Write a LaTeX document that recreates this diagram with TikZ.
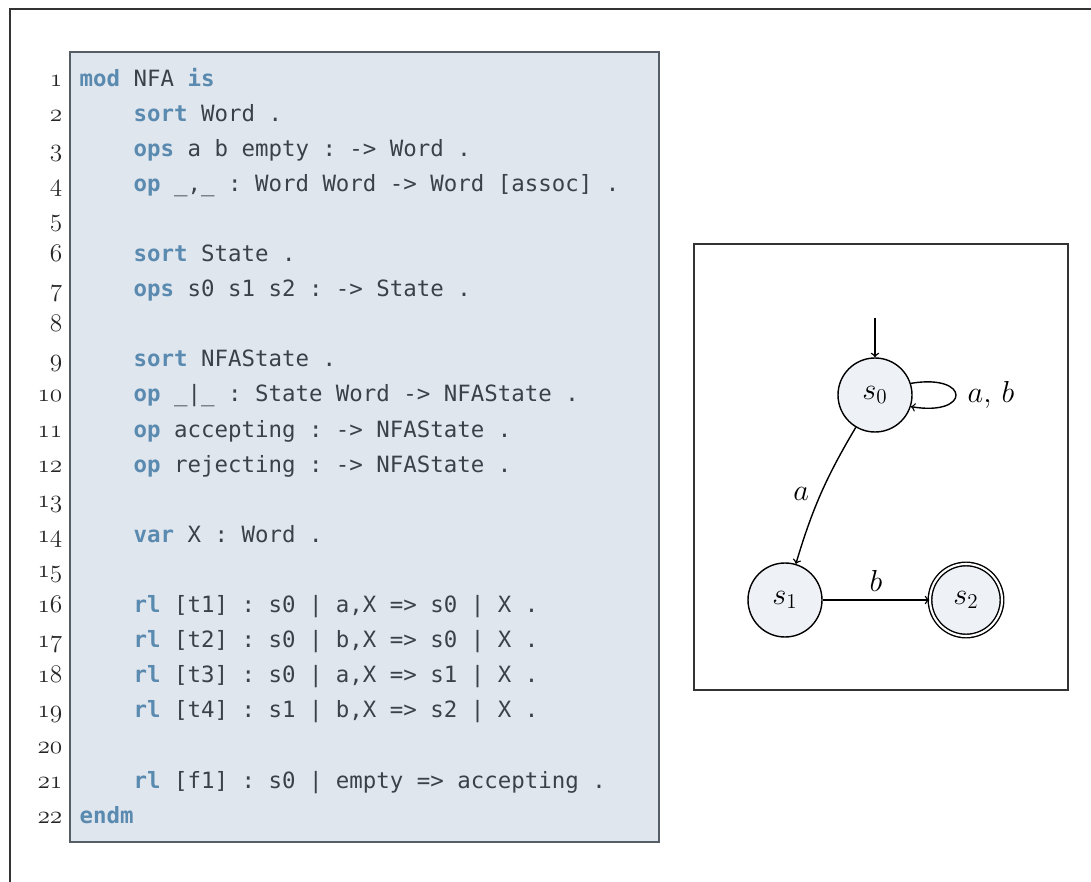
\documentclass[tikz,border=0pt]{standalone}
\usepackage{fontspec}
\setmonofont{DejaVu Sans Mono}
\usetikzlibrary{positioning}

\definecolor{codebg}{HTML}{DFE6EE}
\definecolor{codeframe}{HTML}{555E66}
\definecolor{kwblue}{HTML}{5A8AAF}
\definecolor{codetext}{HTML}{3A4148}
\definecolor{statefill}{HTML}{EEF2F6}

\newcommand\kw[1]{\textbf{\color{kwblue}#1}}
\newcommand\ind{\phantom{xxxx}}
\newcommand\oldnum[1]{{\usefont{OML}{cmm}{m}{it}#1}}

\tikzset{
	codeline/.style={anchor=base west, inner sep=0pt, text=codetext,
		font=\ttfamily\fontsize{12.75}{15}\selectfont},
	linenum/.style={anchor=base east, inner sep=0pt, text=black!85,
		font=\fontsize{15}{18}\selectfont},
	state/.style={circle, draw, fill=statefill, line width=0.8pt,
		minimum size=14.8mm, inner sep=0pt, font=\fontsize{17}{20}\selectfont},
	accepting/.style={state, double, double distance=1.2pt, minimum size=14.4mm},
	edgelabel/.style={font=\fontsize{17}{20}\selectfont}
}

\begin{document}
\begin{tikzpicture}[x=0.2mm, y=-0.2mm, line width=0.8pt]
	\useasboundingbox (0,0) rectangle (1091,882);
	% outer frame
	\draw[black!80, line width=0.9pt] (10,882) -- (10,9) -- (1091,9);

	% listing
	\draw[codeframe, fill=codebg] (70,52) rectangle (659,842);
	\foreach \txt [count=\i] in {
		{\kw{mod} NFA \kw{is}},
		{\ind\kw{sort} Word .},
		{\ind\kw{ops} a b empty : -> Word .},
		{\ind\kw{op} \_,\_ : Word Word -> Word [assoc] .},
		{},
		{\ind\kw{sort} State .},
		{\ind\kw{ops} s0 s1 s2 : -> State .},
		{},
		{\ind\kw{sort} NFAState .},
		{\ind\kw{op} \_|\_ : State Word -> NFAState .},
		{\ind\kw{op} accepting : -> NFAState .},
		{\ind\kw{op} rejecting : -> NFAState .},
		{},
		{\ind\kw{var} X : Word .},
		{},
		{\ind\kw{rl} [t1] : s0 | a,X => s0 | X .},
		{\ind\kw{rl} [t2] : s0 | b,X => s0 | X .},
		{\ind\kw{rl} [t3] : s0 | a,X => s1 | X .},
		{\ind\kw{rl} [t4] : s1 | b,X => s2 | X .},
		{},
		{\ind\kw{rl} [f1] : s0 | empty => accepting .},
		{\kw{endm}}}
	{
		\node[linenum] (n\i) at (63,51+35.1*\i) {\oldnum{\i}};
		\node[codeline] (l\i) at (79,51+35.1*\i) {\txt};
	}

	% automaton
	\draw[black!80] (694,244) rectangle (1068,690);
	\node[state] (s0) at (875,395) {$s_0$};
	\node[state] (s1) at (785,600) {$s_1$};
	\node[accepting] (s2) at (966,600) {$s_2$};
	\coordinate (init) at (875,318);

	\draw[->] (init) -- (s0);
	\draw[->] (s0.18) .. controls +(60,-10) and +(60,10) .. node[edgelabel, right=3pt] {$a,\,b$} (s0.-18);
	\draw[->] (s0) to[bend right=7] node[edgelabel, left=3pt] {$a$} (s1);
	\draw[->] (s1) -- node[edgelabel, above=1pt] {$b$} (s2);
\end{tikzpicture}
\end{document}
